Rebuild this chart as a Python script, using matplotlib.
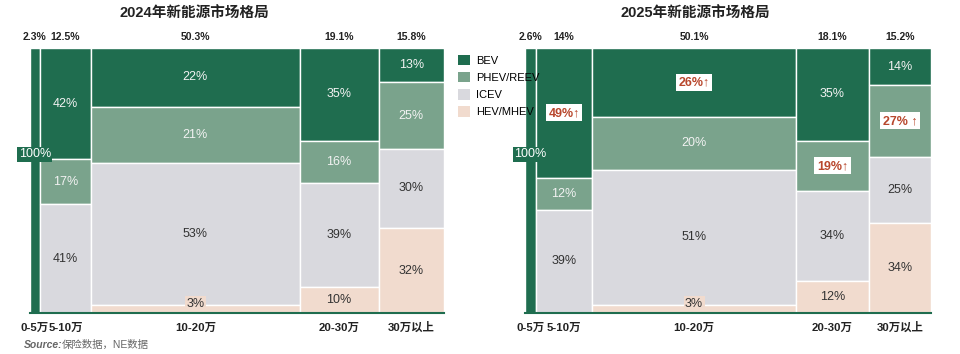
import matplotlib.pyplot as plt
from matplotlib.patches import Patch

plt.rcParams['font.family'] = ['Liberation Sans', 'Noto Sans CJK SC', 'DejaVu Sans']

# 价格区间 和 各区间份额
price_bands = ['0-5万', '5-10万', '10-20万', '20-30万', '30万以上']
share_2024 = [2.3, 12.5, 50.3, 19.1, 15.8]
share_2025 = [2.6, 14, 50.1, 18.1, 15.2]
share_labels_2024 = ['2.3%', '12.5%', '50.3%', '19.1%', '15.8%']
share_labels_2025 = ['2.6%', '14%', '50.1%', '18.1%', '15.2%']

powertrains = ['BEV', 'PHEV/REEV', 'ICEV', 'HEV/MHEV']
colors = ['#1f6d4f', '#7aa38c', '#d9d9de', '#f1dbce']
text_colors = ['#f2f2f2', '#f2f2f2', '#333333', '#333333']

# 每个区间内各动力类型占比（从上到下：BEV, PHEV, ICEV, HEV）
mix_2024 = [
    [100, 0, 0, 0],
    [42, 17, 41, 0],
    [22, 21, 53, 3],
    [35, 16, 39, 10],
    [13, 25, 30, 32],
]
mix_2025 = [
    [100, 0, 0, 0],
    [49, 12, 39, 0],
    [26, 20, 51, 3],
    [35, 19, 34, 12],
    [14, 27, 25, 34],
]
# 2025 增长标注
highlight_2025 = {(1, 0): '49%↑', (2, 0): '26%↑', (3, 1): '19%↑', (4, 1): '27% ↑'}

green = colors[0]


def draw(ax, shares, share_labels, mix, highlights):
    left = 0
    for i, (w, col) in enumerate(zip(shares, mix)):
        total = sum(col)
        top = 100.0
        cx = left + w / 2
        for j, v in enumerate(col):
            if v == 0:
                continue
            h = v / total * 100
            ax.bar(left, h, width=w, bottom=top - h, align='edge',
                   color=colors[j], edgecolor='white', linewidth=1)
            cy = top - h / 2
            if i == 0:
                ax.text(cx, 60, f'{v}%', ha='center', va='center', fontsize=9,
                        color='white', zorder=6,
                        bbox=dict(boxstyle='square,pad=0.12', fc=green, ec='none'))
            elif (i, j) in highlights:
                ax.text(cx, cy, highlights[(i, j)], ha='center', va='center',
                        fontsize=9, fontweight='bold', color='#b8472d', zorder=6,
                        bbox=dict(boxstyle='square,pad=0.2', fc='white', ec='none'))
            elif h < 6:
                ax.text(cx, 1.2, f'{v}%', ha='center', va='bottom', fontsize=9,
                        color='#333333', zorder=6,
                        bbox=dict(boxstyle='square,pad=0.12', fc=colors[j], ec='none'))
            else:
                ax.text(cx, cy, f'{v}%', ha='center', va='center', fontsize=9,
                        color=text_colors[j])
            top -= h
        trans = ax.get_xaxis_transform()
        ax.text(cx, 1.042, share_labels[i], transform=trans,
                ha='center', va='center', fontsize=7.5, fontweight='bold', color='#222222')
        ax.text(cx, -0.068, price_bands[i], transform=trans,
                ha='center', va='baseline', fontsize=8.2, fontweight='bold', color='#222222')
        left += w

    ax.set_xlim(0, sum(shares))
    ax.set_ylim(0, 100)
    ax.axhline(0, color=green, lw=1.5, zorder=5, clip_on=False)
    ax.set_xticks([])
    ax.set_yticks([])
    for s in ax.spines.values():
        s.set_visible(False)


fig = plt.figure(figsize=(9.6, 3.54), dpi=100)
ax1 = fig.add_axes([30 / 960, 41 / 354, 414 / 960, 265 / 354])
ax2 = fig.add_axes([525 / 960, 41 / 354, 406 / 960, 265 / 354])

draw(ax1, share_2024, share_labels_2024, mix_2024, {})
draw(ax2, share_2025, share_labels_2025, mix_2025, highlight_2025)

fig.text(194 / 960, 1 - 14 / 354, '2024年新能源市场格局', ha='center', va='center',
         fontsize=10.5, fontweight='bold', color='#222222')
fig.text(695 / 960, 1 - 14 / 354, '2025年新能源市场格局', ha='center', va='center',
         fontsize=10.5, fontweight='bold', color='#222222')

handles = [Patch(facecolor=c, edgecolor='none') for c in colors]
fig.legend(handles, powertrains, loc='upper left', bbox_to_anchor=(452 / 960, 1 - 49 / 354),
           frameon=False, fontsize=8, handlelength=1.1, handleheight=1.1,
           labelspacing=0.55, handletextpad=0.6, borderpad=0)

fig.text(24 / 960, 1 - 345 / 354, 'Source:', ha='left', va='center', fontsize=7.5,
         fontstyle='italic', fontweight='bold', color='#666666')
fig.text(62 / 960, 1 - 345 / 354, '保险数据，NE数据', ha='left', va='center', fontsize=7.5,
         color='#666666')

fig.savefig('out.png', dpi=100)
